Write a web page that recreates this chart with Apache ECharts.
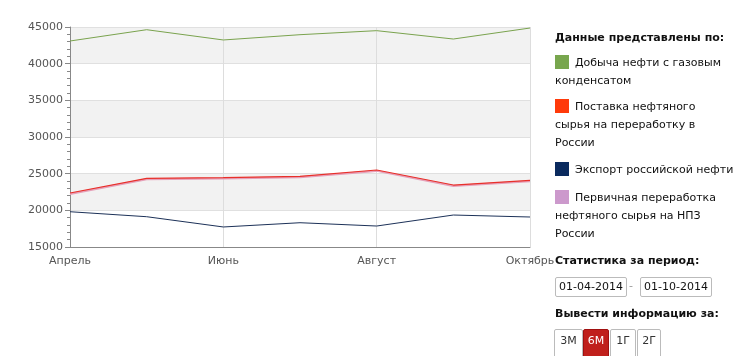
<!DOCTYPE html>
<html><head><meta charset="utf-8">
<script src="https://cdn.jsdelivr.net/npm/echarts@6/dist/echarts.min.js"></script>
<style>
html,body{margin:0;padding:0;background:#fff;width:756px;height:356px;overflow:hidden;font-family:"DejaVu Sans",sans-serif;}
#chart{position:absolute;left:0;top:0;width:756px;height:356px;}
#panel{position:absolute;left:555px;top:0;width:200px;font-size:11px;color:#111;}
.h{position:absolute;left:0;font-weight:bold;font-size:11px;white-space:nowrap;}
.it{position:absolute;left:0;width:200px;line-height:18px;white-space:nowrap;}
.sq{display:inline-block;width:14px;height:14px;vertical-align:-3px;margin-right:6px;}
.box{position:absolute;top:277px;height:18px;border:1px solid #bbb;border-radius:2px;font-size:11px;line-height:18px;text-align:center;color:#111;}
.btn{position:absolute;top:329px;height:30px;border:1px solid #bbb;border-radius:2px;font-size:11px;line-height:22px;text-align:center;color:#333;}
</style></head>
<body>
<div id="chart"></div>
<div id="panel">
  <div class="h" style="top:31px">Данные представлены по:</div>
  <div class="it" style="top:54px"><span class="sq" style="background:#78a64e"></span>Добыча нефти с газовым<br>конденсатом</div>
  <div class="it" style="top:98px"><span class="sq" style="background:#ff3a0a"></span>Поставка нефтяного<br>сырья на переработку в<br>России</div>
  <div class="it" style="top:161px"><span class="sq" style="background:#0a2a5e"></span>Экспорт российской нефти</div>
  <div class="it" style="top:189px"><span class="sq" style="background:#cc99cc"></span>Первичная переработка<br>нефтяного сырья на НПЗ<br>России</div>
  <div class="h" style="top:254px">Статистика за период:</div>
  <div class="box" style="left:0;width:70px">01-04-2014</div>
  <div class="box" style="width:0;border:none;color:#999;left:74px">-</div>
  <div class="box" style="left:85px;width:70px">01-10-2014</div>
  <div class="h" style="top:307px">Вывести информацию за:</div>
  <div class="btn" style="left:-1px;width:27px">3М</div>
  <div class="btn" style="left:28px;width:24px;background:#c0201c;color:#fff;border-color:#a01010">6М</div>
  <div class="btn" style="left:55px;width:24px">1Г</div>
  <div class="btn" style="left:82px;width:22px">2Г</div>
</div>
<script>
var categories = ['Апрель','Май','Июнь','Июль','Август','Сентябрь','Октябрь'];
var dobycha = [43090, 44630, 43230, 43950, 44500, 43360, 44860];
var postavka = [22360, 24350, 24450, 24630, 25500, 23450, 24080];
var eksport = [19810, 19130, 17730, 18310, 17860, 19360, 19090];
var pererabotka = [22240, 24230, 24340, 24520, 25380, 23330, 23960];
var yTicks = {min: 15000, max: 45000, interval: 5000};

var chart = echarts.init(document.getElementById('chart'));
function line(name, data, color, width, z) {
  return {name: name, type: 'line', data: data, symbol: 'none', z: z,
    lineStyle: {color: color, width: width}, itemStyle: {color: color}};
}
chart.setOption({
  animation: false,
  grid: {left: 70, right: 226, top: 27, bottom: 109, containLabel: false},
  xAxis: {
    type: 'category', data: categories, boundaryGap: false,
    axisLine: {lineStyle: {color: '#888'}},
    axisTick: {show: false},
    axisLabel: {interval: 1, color: '#555', fontSize: 11, fontFamily: 'DejaVu Sans', margin: 9},
    splitLine: {show: true, interval: 1, lineStyle: {color: '#ddd'}}
  },
  yAxis: {
    type: 'value', min: yTicks.min, max: yTicks.max, interval: yTicks.interval,
    axisLine: {show: true, lineStyle: {color: '#888'}},
    axisTick: {show: true, length: 5, lineStyle: {color: '#888'}},
    minorTick: {show: true, splitNumber: 5, length: 3, lineStyle: {color: '#888'}},
    axisLabel: {color: '#555', fontSize: 11, fontFamily: 'DejaVu Sans', margin: 7,
      formatter: function (v) { return String(v); }},
    splitLine: {show: true, lineStyle: {color: '#e0e0e0'}},
    splitArea: {show: true, areaStyle: {color: ['#ffffff', '#f2f2f2']}}
  },
  series: [
    line('Добыча нефти с газовым конденсатом', dobycha, '#7aa34e', 1, 3),
    line('Первичная переработка нефтяного сырья на НПЗ России', pererabotka, '#e6a0b8', 2, 2),
    line('Поставка нефтяного сырья на переработку в России', postavka, '#e8302a', 1.2, 4),
    line('Экспорт российской нефти', eksport, '#1c3158', 1, 3)
  ]
});
</script>
</body></html>
